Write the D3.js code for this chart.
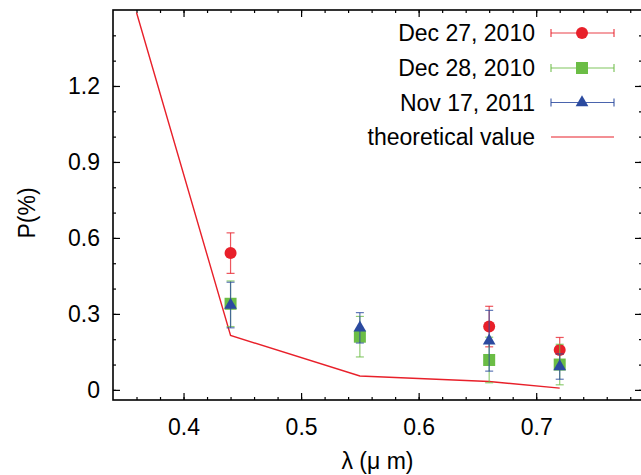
<!DOCTYPE html>
<html><head><meta charset="utf-8">
<script src="https://cdn.jsdelivr.net/npm/d3@7"></script>
<style>
body{margin:0;background:#fff;}
svg{display:block;font-family:"Liberation Sans",Arial,Helvetica,sans-serif;}
</style></head>
<body><svg id="c" width="641" height="475"></svg>
<script>
// ---- data ----
const dec27X = [0.44, 0.66, 0.72];
const dec27Y = [0.54, 0.25, 0.157];
const dec27Err = [0.08, 0.08, 0.05];

const dec28X = [0.44, 0.55, 0.66, 0.72];
const dec28Y = [0.34, 0.21, 0.118, 0.10];
const dec28Err = [0.09, 0.08, 0.09, 0.08];

const nov17X = [0.44, 0.55, 0.66, 0.72];
const nov17Y = [0.335, 0.245, 0.194, 0.092];
const nov17Err = [0.09, 0.06, 0.12, 0.05];

const theoryX = [0.36, 0.44, 0.55, 0.66, 0.72];
const theoryY = [1.49, 0.215, 0.055, 0.033, 0.007];

const xMajorTicks = [0.4, 0.5, 0.6, 0.7];
const yMajorTicks = [0, 0.3, 0.6, 0.9, 1.2];
const legendLabels = ["Dec 27, 2010", "Dec 28, 2010", "Nov 17, 2011", "theoretical value"];

// ---- layout ----
const svg = d3.select("#c");
const L = 113, R = 642, T = 10, B = 400;
const x = d3.scaleLinear().domain([0.34, 0.79]).range([L, R]);
const y = d3.scaleLinear().domain([-0.04, 1.5]).range([B, T]);

const RED = "#e8202a", GREEN = "#6bbd45", BLUE = "#2b4a9f";

const xMinor = d3.range(0.36, 0.785, 0.02);
const yMinor = d3.range(0, 1.45, 0.1);

function styleAxis(g){
  g.select(".domain").remove();
  g.selectAll(".tick line").attr("stroke","#000").attr("stroke-width",1.2);
  g.selectAll("text").attr("fill","#000").style("font-size","23px")
   .style("font-family",'"Liberation Sans",Arial,Helvetica,sans-serif');
}
// minor ticks
svg.append("g").attr("transform",`translate(0,${B})`)
  .call(d3.axisBottom(x).tickValues(xMinor).tickSize(-3).tickFormat("")).call(styleAxis);
svg.append("g").attr("transform",`translate(0,${T})`)
  .call(d3.axisTop(x).tickValues(xMinor).tickSize(-3).tickFormat("")).call(styleAxis);
svg.append("g").attr("transform",`translate(${L},0)`)
  .call(d3.axisLeft(y).tickValues(yMinor).tickSize(-3).tickFormat("")).call(styleAxis);
svg.append("g").attr("transform",`translate(${R},0)`)
  .call(d3.axisRight(y).tickValues(yMinor).tickSize(-3).tickFormat("")).call(styleAxis);
// major ticks
const fmt = d => d === 0 ? "0" : d3.format(".1f")(d);
svg.append("g").attr("transform",`translate(0,${B})`)
  .call(d3.axisBottom(x).tickValues(xMajorTicks).tickSize(-7).tickPadding(19).tickFormat(fmt)).call(styleAxis);
svg.append("g").attr("transform",`translate(0,${T})`)
  .call(d3.axisTop(x).tickValues(xMajorTicks).tickSize(-7).tickFormat("")).call(styleAxis);
svg.append("g").attr("transform",`translate(${L},0)`)
  .call(d3.axisLeft(y).tickValues(yMajorTicks).tickSize(-7).tickPadding(13).tickFormat(fmt)).call(styleAxis);
svg.append("g").attr("transform",`translate(${R},0)`)
  .call(d3.axisRight(y).tickValues(yMajorTicks).tickSize(-7).tickFormat("")).call(styleAxis);

// frame
svg.append("rect").attr("x",L).attr("y",T).attr("width",R-L).attr("height",B-T)
  .attr("fill","none").attr("stroke","#000").attr("stroke-width",1.6);

// axis titles
svg.append("text").attr("x",(L+R)/2).attr("y",469).attr("text-anchor","middle")
  .style("font-size","23px").text("λ (μ m)");
svg.append("text").attr("transform",`translate(35,${(T+B)/2+8}) rotate(-90)`).attr("text-anchor","middle")
  .style("font-size","23px").text("P(%)");

// clip
svg.append("clipPath").attr("id","clip").append("rect")
  .attr("x",L).attr("y",T).attr("width",R-L).attr("height",B-T);
const plot = svg.append("g").attr("clip-path","url(#clip)");

// theoretical line
plot.append("path").datum(theoryX.map((v,i)=>[v,theoryY[i]]))
  .attr("fill","none").attr("stroke",RED).attr("stroke-width",1.4)
  .attr("d", d3.line().x(d=>x(d[0])).y(d=>y(d[1])));

const CAP = 4;
function drawSeries(xs, ys, es, color, marker){
  const g = plot.append("g");
  xs.forEach((xv,i)=>{
    const cx = x(xv), y1 = y(ys[i]+es[i]), y0 = y(ys[i]-es[i]);
    g.append("line").attr("x1",cx).attr("x2",cx).attr("y1",y1).attr("y2",y0)
      .attr("stroke",color).attr("stroke-width",1.2).attr("opacity",0.75);
    [y1,y0].forEach(yy=>g.append("line").attr("x1",cx-CAP).attr("x2",cx+CAP).attr("y1",yy).attr("y2",yy)
      .attr("stroke",color).attr("stroke-width",1.2).attr("opacity",0.75));
  });
  xs.forEach((xv,i)=>marker(g, x(xv), y(ys[i])));
}
const circ = color => (g,cx,cy)=>g.append("circle").attr("cx",cx).attr("cy",cy).attr("r",6).attr("fill",color);
const sq = color => (g,cx,cy)=>g.append("rect").attr("x",cx-6).attr("y",cy-6).attr("width",12).attr("height",12).attr("fill",color);
const tri = color => (g,cx,cy)=>g.append("path").attr("transform",`translate(${cx},${cy})`)
  .attr("d",d3.symbol().type(d3.symbolTriangle).size(70)()).attr("fill",color);

drawSeries(dec27X, dec27Y, dec27Err, RED, circ(RED));
drawSeries(dec28X, dec28Y, dec28Err, GREEN, sq(GREEN));
drawSeries(nov17X, nov17Y, nov17Err, BLUE, tri(BLUE));

// legend
const legY = [33, 68, 102.5, 137];
const legColors = [RED, GREEN, BLUE, RED];
const legMarkers = [circ(RED), sq(GREEN), tri(BLUE), null];
const lg = svg.append("g");
legendLabels.forEach((lab,i)=>{
  const yy = legY[i];
  lg.append("text").attr("x",535).attr("y",yy+8).attr("text-anchor","end")
    .style("font-size","23px").text(lab);
  lg.append("line").attr("x1",551).attr("x2",614).attr("y1",yy).attr("y2",yy)
    .attr("stroke",legColors[i]).attr("stroke-width",1.2).attr("opacity", i===3?1:0.85);
  if (legMarkers[i]) {
    [551,614].forEach(xx=>lg.append("line").attr("x1",xx).attr("x2",xx).attr("y1",yy-CAP).attr("y2",yy+CAP)
      .attr("stroke",legColors[i]).attr("stroke-width",1.2).attr("opacity",0.85));
    legMarkers[i](lg, 582, yy);
  }
});
</script></body></html>
